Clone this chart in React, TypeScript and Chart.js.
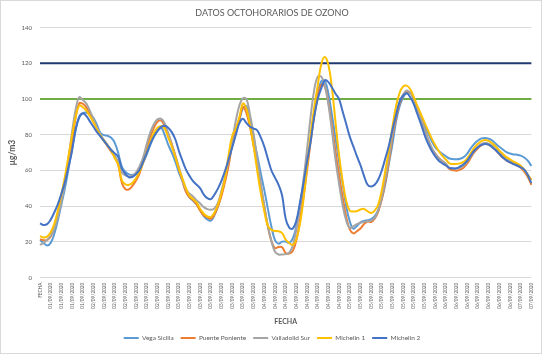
import React, { useEffect, useRef } from "react";
import { Chart, registerables } from "chart.js";

Chart.register(...registerables);

const TITLE = "DATOS OCTOHORARIOS DE OZONO";
const X_TITLE = "FECHA";
const Y_TITLE = "µg/m3";

// one tick label every 3 hourly categories
const TICK_LABELS = [
  "FECHA",
  "01/09/2020", "01/09/2020", "01/09/2020", "01/09/2020",
  "02/09/2020", "02/09/2020", "02/09/2020", "02/09/2020", "02/09/2020", "02/09/2020", "02/09/2020", "02/09/2020",
  "03/09/2020", "03/09/2020", "03/09/2020", "03/09/2020", "03/09/2020", "03/09/2020", "03/09/2020", "03/09/2020",
  "04/09/2020", "04/09/2020", "04/09/2020", "04/09/2020", "04/09/2020", "04/09/2020", "04/09/2020", "04/09/2020",
  "05/09/2020", "05/09/2020", "05/09/2020", "05/09/2020", "05/09/2020", "05/09/2020", "05/09/2020", "05/09/2020",
  "06/09/2020", "06/09/2020", "06/09/2020", "06/09/2020", "06/09/2020", "06/09/2020", "06/09/2020", "06/09/2020",
  "07/09/2020", "07/09/2020",
];
const HOURS_PER_TICK = 3;

const SERIES_NAMES = ["Vega Sicilia", "Puente Poniente", "Valladolid Sur", "Michelin 1", "Michelin 2"];
const SERIES_COLORS = ["#5B9BD5", "#ED7D31", "#A5A5A5", "#FFC000", "#4472C4"];

const VEGA_SICILIA = [
  21, 19.5, 18, 19.5, 24.5, 32, 41, 50, 61, 72, 82.5, 89.5, 92, 92.4, 91.5, 89.5, 85.5, 81, 79.8, 79.4, 78.3, 75.5, 69.5,
  62, 59.2, 57.8, 57.5, 58.5, 60.3, 64.5, 69, 74.5, 79, 82.5, 84, 80, 74.5, 70, 65, 59, 54, 48.5, 45, 43, 41, 38, 34.5, 32.6, 32, 35, 40, 47, 56, 65, 74, 81, 88, 95, 96, 88, 78, 68.5, 58.5, 49, 38.5, 28.5, 21, 19, 20.2,
  20.2, 19.5, 22, 28.5, 38.5, 50, 63.5, 78, 92, 103, 110, 110, 103, 91, 78, 65, 52.5, 40, 31.5, 27.5, 29, 31, 31.8, 32.2, 32.8, 34.5, 38, 44, 52.5, 64, 75, 87.5, 96, 101, 103.5, 103.5, 99.5, 94.5, 90.5, 85.5, 81, 76.5, 73, 71, 69.3, 68,
  66.7, 66.4, 66.3, 66.6, 67.5, 69.5, 72.5, 75, 76.8, 78, 78.2, 77.8, 76.8, 75, 73.3, 71.8, 70.3, 69.5, 69, 68.8, 68.3, 67.3, 65.5, 62.5,
];

const PUENTE_PONIENTE = [
  21.5, 21, 21, 23, 28, 35.5, 44.5, 54, 64.5, 76, 89.5, 97.5, 97.5, 95.5, 91.5, 87.5, 83.5, 79.5, 76.5, 73.5, 70.5, 67.5, 63,
  53, 49.5, 49.5, 51.5, 54.5, 58.5, 65.5, 72.5, 79, 84, 87.3, 88, 85, 80.5, 75, 68.5, 61, 54.5, 48, 45, 43.5, 41, 37.5, 34.8, 33.8, 33, 35.5, 40, 46, 54, 63, 75, 83, 89, 95.5, 92, 84, 74, 63.5, 51.5, 40, 28.5, 20.5, 16.5, 17.2, 17,
  13.8, 13.5, 15, 21, 32, 45, 60, 76, 90, 101, 108, 107, 98, 85, 70.5, 57.5, 45, 34, 27, 24.8, 26, 27.5, 30, 31.5, 31.2, 33, 37, 44, 54, 65, 79, 89.5, 97.5, 102, 104, 103.5, 100.4, 95, 89, 83, 77.5, 72.5, 69.5, 67, 65.3, 63.6,
  60.8, 60.2, 59.9, 60.5, 61.7, 64, 67.2, 70.3, 72.5, 74.2, 75, 74.5, 73.2, 71.4, 69.2, 67.2, 65.6, 64.6, 63.7, 62.8, 61.5, 59.4, 56.3, 52,
];

const VALLADOLID_SUR = [
  18.3, 19.5, 21.2, 23.5, 27.5, 34, 42, 54, 67, 81.5, 94, 101, 99.5, 97.5, 93.5, 89, 84, 80, 77, 74.3, 71.2, 68.2, 64.5,
  58.7, 57.3, 56.6, 57.2, 59, 62.5, 67.5, 75, 81.5, 86, 88.6, 89, 86.5, 81, 74.5, 68, 62, 55, 49.5, 47, 45.5, 43.3, 41.5, 39.5, 38.4, 38, 38.8, 42, 49, 57, 66, 77, 88, 96.5, 100.5, 100, 91, 80.5, 66.5, 53, 39.8, 29, 20.5, 14.5, 13, 13,
  13.2, 14, 18, 27, 39.8, 55, 72, 90, 105, 112.5, 112.5, 107.5, 97, 82, 66, 52.5, 40.5, 32, 27.8, 28.8, 30, 30.8, 31.2, 31.6, 32, 33.5, 37.5, 45, 56, 67, 81, 91, 98.5, 102.5, 104.8, 103.5, 100.4, 95, 89, 83, 77.5, 72.8, 69.5, 67, 65.3, 63.8,
  61.4, 61.1, 61.1, 61.7, 62.8, 65, 68, 71, 73.3, 74.9, 75.6, 75.1, 73.8, 72.2, 70.3, 68.4, 66.7, 65.6, 64.4, 63.4, 62.3, 60.3, 57.6, 54.7,
];

const MICHELIN_1 = [
  23.3, 22.5, 23, 25.5, 30, 37.5, 46.5, 56.5, 68, 79.5, 90, 96.3, 95.5, 93.5, 90.5, 87, 83, 79.5, 76.5, 74, 71, 67, 63,
  54.5, 52.2, 52, 53.2, 55.8, 59.5, 64.5, 70.5, 76.5, 81, 84, 84.8, 83.5, 78.5, 73.5, 67.5, 61, 55.5, 50, 45.8, 44, 42, 38.5, 35.8, 34.3, 34, 36.5, 41, 47.5, 56, 69, 79.5, 83.5, 90, 97.5, 94.5, 85, 73.5, 60, 47.5, 37, 29, 26.8, 26.2, 26, 25,
  21.3, 19.4, 18.4, 21.5, 30, 44, 62, 80, 95, 107.5, 119.5, 123.5, 119, 106, 87, 68.5, 54, 43, 37.5, 37, 37.3, 38.2, 38.5, 37.2, 36.2, 37.5, 41, 49, 60, 71.5, 84.5, 96, 103.5, 107, 107.5, 105.5, 101, 96, 91.5, 86.8, 82.3, 78, 74.2, 70.8, 68.2, 66.2,
  64, 63.7, 63.7, 64, 64.8, 66.8, 69.8, 72.8, 75, 76.5, 77.1, 76.6, 75.2, 73.4, 71.2, 69.3, 67.5, 66.3, 65, 64, 62.7, 60.3, 57.6, 54.7,
];

const MICHELIN_2 = [
  30.4, 29.5, 30, 32.5, 36.5, 41, 47, 53.5, 62, 71, 83, 90, 92, 90.5, 87.5, 84.5, 81.5, 79, 76.5, 74, 71.5, 69.6, 67.5,
  61, 58, 56.2, 56.5, 58, 60.5, 65, 70, 75, 79, 82, 84.3, 85, 84, 81.5, 77.5, 71, 65.5, 60.5, 57, 54, 52, 50, 46.5, 44.5, 44, 46.5, 50, 54.5, 60, 66.5, 73, 80, 86.5, 89, 86.5, 84.5, 83.5, 82.5, 78.5, 73.4, 66.5, 60, 56, 52, 46,
  33, 28, 27.5, 32, 42, 53, 65, 76, 90, 100, 106, 110.5, 109.5, 106.5, 103, 100, 93, 86, 79, 73.5, 68, 63, 57, 52, 51, 52, 55, 60, 67, 74, 83, 91, 98.5, 102, 103.2, 101, 97, 91.5, 86, 80, 75, 71, 68, 65.5, 64, 62.8,
  61.5, 61.2, 61.3, 62.3, 63.5, 65.5, 68.5, 71.2, 73, 74.3, 74.9, 74.5, 73, 71.3, 69.3, 67.3, 65.7, 64.5, 63.6, 62.8, 61.8, 60.5, 57.5, 53,
];

const SERIES_VALUES = [VEGA_SICILIA, PUENTE_PONIENTE, VALLADOLID_SUR, MICHELIN_1, MICHELIN_2];

const LIMIT_VALUES = [120, 100];
const LIMIT_COLORS = ["#1F3A70", "#70AD47"];

const Y_MIN = 0;
const Y_MAX = 140;
const Y_STEP = 20;

const CATEGORIES = VEGA_SICILIA.map((_, i) =>
  i % HOURS_PER_TICK === 0 ? TICK_LABELS[i / HOURS_PER_TICK] ?? "" : ""
);

const TEXT_COLOR = "#595959";
const FONT = "Lato";

const limitLinesPlugin = {
  id: "limitLines",
  beforeDatasetsDraw(chart: any) {
    const { ctx, chartArea, scales } = chart;
    LIMIT_VALUES.forEach((v, i) => {
      const py = scales.y.getPixelForValue(v);
      ctx.save();
      ctx.strokeStyle = LIMIT_COLORS[i];
      ctx.lineWidth = 2;
      ctx.beginPath();
      ctx.moveTo(chartArea.left, py);
      ctx.lineTo(chartArea.right, py);
      ctx.stroke();
      ctx.restore();
    });
  },
};

export default function App() {
  const canvasRef = useRef<HTMLCanvasElement | null>(null);

  useEffect(() => {
    if (!canvasRef.current) return;
    const n = SERIES_NAMES.length;
    const chart = new Chart(canvasRef.current, {
      type: "line",
      data: {
        labels: CATEGORIES,
        datasets: SERIES_NAMES.map((name, i) => ({
          label: name,
          data: SERIES_VALUES[i],
          borderColor: SERIES_COLORS[i],
          backgroundColor: SERIES_COLORS[i],
          borderWidth: 2,
          pointRadius: 0,
          tension: 0.4,
          fill: false,
          order: n - 1 - i,
        })),
      },
      options: {
        animation: false,
        responsive: false,
        maintainAspectRatio: false,
        devicePixelRatio: 1,
        events: [],
        layout: { padding: { left: 12, right: 10, top: 0, bottom: 2.75 } },
        plugins: {
          title: {
            display: true,
            text: TITLE,
            color: TEXT_COLOR,
            font: { family: FONT, size: 9, weight: "normal" },
            padding: { top: 7.6, bottom: 9.2 },
          },
          legend: {
            position: "bottom",
            labels: {
              color: TEXT_COLOR,
              font: { family: FONT, size: 6.5 },
              usePointStyle: true,
              pointStyle: "line",
              pointStyleWidth: 15,
              padding: 7,
              sort: (a: any, b: any) => a.datasetIndex - b.datasetIndex,
            },
          },
          tooltip: { enabled: false },
        },
        scales: {
          x: {
            type: "category",
            grid: { display: false, drawTicks: false },
            border: { display: false },
            ticks: {
              autoSkip: false,
              minRotation: 90,
              maxRotation: 90,
              padding: 5,
              color: TEXT_COLOR,
              font: { family: FONT, size: 4.7 },
              callback: (_v: any, idx: number) => CATEGORIES[idx],
            },
            title: {
              display: true,
              text: X_TITLE,
              color: TEXT_COLOR,
              font: { family: FONT, size: 7, weight: "bold" },
              padding: { top: 0, bottom: 1.55 },
            },
            afterFit: (scale: any) => {
              scale.height = 50.05;
            },
          },
          y: {
            min: Y_MIN,
            max: Y_MAX,
            grid: { color: "#D9D9D9", lineWidth: 1, drawTicks: false },
            border: { display: false },
            ticks: {
              stepSize: Y_STEP,
              padding: 8,
              color: TEXT_COLOR,
              font: { family: FONT, size: 6 },
            },
            title: {
              display: true,
              text: Y_TITLE,
              color: TEXT_COLOR,
              font: { family: FONT, size: 8.5, weight: "bold" },
              padding: { top: -5, bottom: 0 },
            },
            afterFit: (scale: any) => {
              scale.width = 28;
            },
          },
        },
      },
      plugins: [limitLinesPlugin],
    } as any);
    return () => chart.destroy();
  }, []);

  return (
    <div style={{ position: "fixed", left: 0, top: 0, width: 542, height: 354, background: "#fff" }}>
      <canvas ref={canvasRef} width={542} height={354} style={{ display: "block" }} />
      <div
        style={{
          position: "absolute",
          left: 0,
          top: 0,
          width: 542,
          height: 354,
          boxSizing: "border-box",
          border: "1px solid #D9D9D9",
          pointerEvents: "none",
        }}
      />
    </div>
  );
}
